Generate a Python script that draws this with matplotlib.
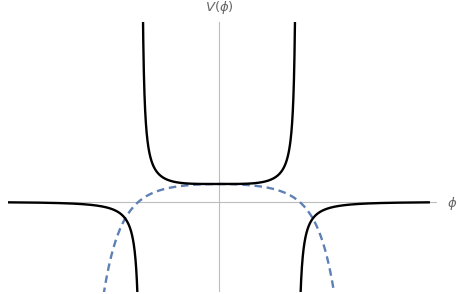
import numpy as np
import matplotlib
matplotlib.use("Agg")
import matplotlib.pyplot as plt

plt.rcParams['mathtext.fontset'] = 'dejavusans'

# Parameters (phi in units of the pole position)
pole = 1.0            # pole of the solid potential
v0 = 1.0              # height of the plateau at phi = 0
power = 4             # steepness of the solid curve
dash_k = 1.45         # growth rate of the dashed curve
dash_zero = 1.035     # dashed curve crosses zero here
phi_range = (-2.705, 2.705)
xlim = (-2.705, 2.795)
ylim = (-5.0, 10.0)

W, H = 457, 294
fig = plt.figure(figsize=(W / 100, H / 100), dpi=100)
ax = fig.add_axes([8 / W, (H - 292) / H, (437 - 8) / W, (292 - 22) / H])
ax.set_xlim(*xlim)
ax.set_ylim(*ylim)
ax.axis('off')

ax.axhline(0, color='#bdbdbd', lw=0.8, zorder=1)
ax.axvline(0, color='#bdbdbd', lw=0.8, zorder=1)

def solid(phi):
    return v0 / (1 - (phi / pole) ** power)

eps = 1e-4
segments = [
    np.linspace(phi_range[0], -pole - eps, 3000),
    np.linspace(-pole + eps, pole - eps, 6000),
    np.linspace(pole + eps, phi_range[1], 3000),
]

A = 1.0 / (np.exp(dash_k * dash_zero ** 2) - 1)
phid = np.linspace(-1.7, 1.7, 2000)
dashed = v0 * (1 - A * (np.exp(dash_k * phid ** 2) - 1))
ax.plot(phid, dashed, color='#5e81b5', lw=1.7, ls=(0, (3.2, 2.0)), zorder=2)

for seg in segments:
    ax.plot(seg, solid(seg), color='black', lw=1.7, zorder=3,
            solid_capstyle='butt')

fig.text(219 / W, 1 - 8 / H, r'$V(\phi)$', color='#666666', fontsize=9.5,
         ha='center', va='center')
fig.text(452 / W, 1 - 203 / H, r'$\phi$', color='#666666', fontsize=9.5,
         ha='center', va='center')

fig.savefig('out.png', dpi=100)
